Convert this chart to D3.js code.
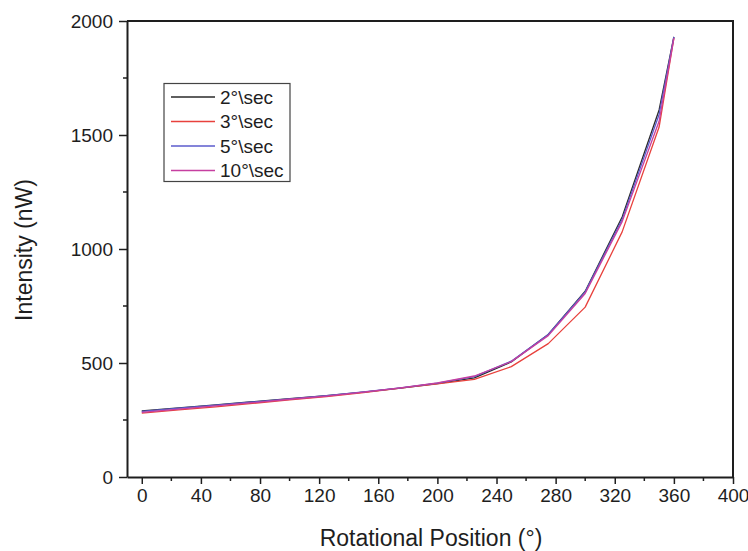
<!DOCTYPE html>
<html>
<head>
<meta charset="utf-8">
<script src="https://cdn.jsdelivr.net/npm/d3@7"></script>
<style>
  html, body { margin: 0; padding: 0; background: #fff; }
  svg { display: block; font-family: "Liberation Sans", Arial, sans-serif; }
</style>
</head>
<body>
<svg id="chart" width="748" height="551"></svg>
<script>
// Rotational position (degrees) at which intensity was sampled
const positions = [0, 25, 50, 75, 100, 125, 150, 175, 200, 225, 250, 275, 300, 325, 350, 360];

// Measured intensity (nW) for each rotation speed
const speed2  = [290, 303, 316, 330, 344, 357, 372, 390, 410, 435, 505, 625, 815, 1140, 1610, 1930];
const speed3  = [280, 294, 308, 323, 338, 353, 370, 390, 408, 428, 484, 585, 745, 1075, 1535, 1925];
const speed5  = [288, 302, 315, 329, 343, 357, 373, 391, 412, 440, 508, 625, 812, 1130, 1590, 1930];
const speed10 = [283, 298, 312, 326, 341, 355, 372, 391, 413, 443, 506, 620, 805, 1120, 1560, 1925];

const seriesNames  = ["2°\\sec", "3°\\sec", "5°\\sec", "10°\\sec"];
const seriesValues = [speed2, speed3, speed5, speed10];
const seriesColors = ["#2a2a2a", "#e8413c", "#5b5bcc", "#c63fa0"];

const xTicks = [0, 40, 80, 120, 160, 200, 240, 280, 320, 360, 400];
const yTicks = [0, 500, 1000, 1500, 2000];

const svg = d3.select("#chart");
const plotLeft = 127, plotRight = 733, plotTop = 21, plotBottom = 477;

const x = d3.scaleLinear().domain([-10, 400]).range([plotLeft, plotRight]);
const y = d3.scaleLinear().domain([0, 2000]).range([plotBottom, plotTop]);

const axisColor = "#1e1e1e";
const textColor = "#1e1e1e";

// minor ticks
const xMinor = d3.range(20, 400, 40);
const yMinor = d3.range(250, 2000, 500);

svg.append("g").selectAll("line").data(xMinor).join("line")
  .attr("x1", d => x(d)).attr("x2", d => x(d))
  .attr("y1", plotBottom).attr("y2", plotBottom + 4)
  .attr("stroke", axisColor).attr("stroke-width", 1.5);
svg.append("g").selectAll("line").data(yMinor).join("line")
  .attr("x1", plotLeft - 4).attr("x2", plotLeft)
  .attr("y1", d => y(d)).attr("y2", d => y(d))
  .attr("stroke", axisColor).attr("stroke-width", 1.5);

// x axis
const xAxis = svg.append("g")
  .attr("transform", `translate(0,${plotBottom})`)
  .call(d3.axisBottom(x).tickValues(xTicks).tickFormat(d3.format("d"))
    .tickSize(7).tickPadding(5).tickSizeOuter(0));
xAxis.select(".domain").attr("stroke", axisColor).attr("stroke-width", 2);
xAxis.selectAll(".tick line").attr("stroke", axisColor).attr("stroke-width", 1.5);
xAxis.selectAll(".tick text")
  .attr("fill", textColor).attr("font-size", "19px")
  .attr("font-family", "Liberation Sans, Arial, sans-serif");

// y axis
const yAxis = svg.append("g")
  .attr("transform", `translate(${plotLeft},0)`)
  .call(d3.axisLeft(y).tickValues(yTicks).tickFormat(d3.format("d"))
    .tickSize(8).tickPadding(6).tickSizeOuter(0));
yAxis.select(".domain").attr("stroke", axisColor).attr("stroke-width", 2);
yAxis.selectAll(".tick line").attr("stroke", axisColor).attr("stroke-width", 1.5);
yAxis.selectAll(".tick text")
  .attr("fill", textColor).attr("font-size", "19px")
  .attr("font-family", "Liberation Sans, Arial, sans-serif");

// frame top and right
svg.append("path")
  .attr("d", `M${plotLeft},${plotTop}H${plotRight}V${plotBottom}`)
  .attr("fill", "none").attr("stroke", axisColor).attr("stroke-width", 2);

// data lines
const line = d3.line().x((d, i) => x(positions[i])).y(d => y(d));
svg.append("g").selectAll("path").data(seriesValues).join("path")
  .attr("d", d => line(d))
  .attr("fill", "none")
  .attr("stroke", (d, i) => seriesColors[i])
  .attr("stroke-width", 1.3)
  .attr("stroke-linejoin", "round");

// axis titles
svg.append("text")
  .attr("x", 431).attr("y", 546)
  .attr("text-anchor", "middle")
  .attr("font-size", "23px").attr("fill", textColor)
  .text("Rotational Position (°)");
svg.append("text")
  .attr("transform", "translate(32,250) rotate(-90)")
  .attr("text-anchor", "middle")
  .attr("font-size", "23px").attr("fill", textColor)
  .text("Intensity (nW)");

// legend
const legend = svg.append("g");
legend.append("rect")
  .attr("x", 164).attr("y", 83.5).attr("width", 126).attr("height", 98)
  .attr("fill", "#fff").attr("stroke", "#444").attr("stroke-width", 1.2);
const rows = legend.selectAll("g.row").data(seriesNames).join("g")
  .attr("class", "row")
  .attr("transform", (d, i) => `translate(0,${97 + i * 24.5})`);
rows.append("line")
  .attr("x1", 171).attr("x2", 215).attr("y1", 0).attr("y2", 0)
  .attr("stroke", (d, i) => seriesColors[i]).attr("stroke-width", 1.3);
rows.append("text")
  .attr("x", 220).attr("y", 0).attr("dy", "0.35em")
  .attr("font-size", "19px").attr("fill", textColor)
  .text(d => d);
</script>
</body>
</html>
